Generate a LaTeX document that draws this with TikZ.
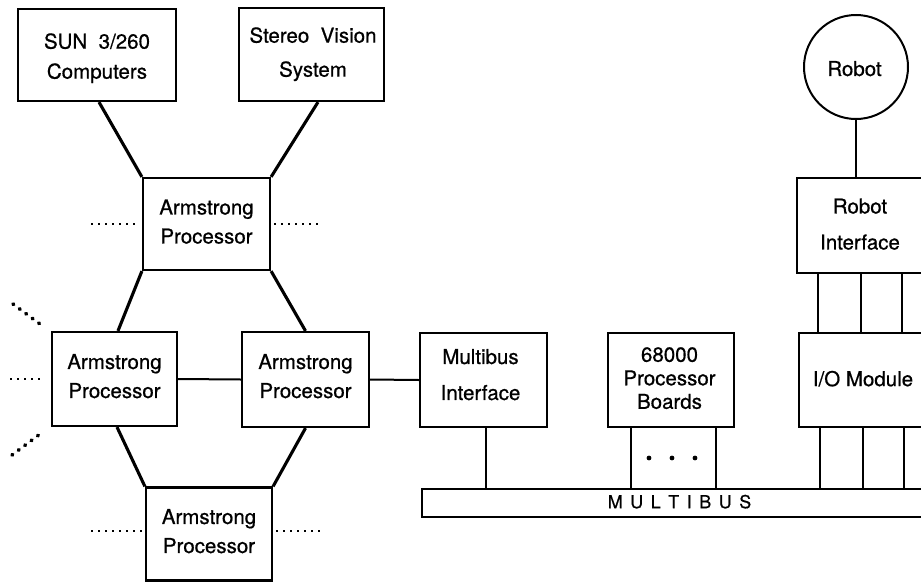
\documentclass[tikz,border=0pt]{standalone}
\usepackage{fontspec}
\setmainfont{TeX Gyre Heros}[FakeBold=0.7]
\begin{document}
\begin{tikzpicture}[x=1pt,y=-1pt,
  box/.style={draw,line width=2.2pt,inner sep=0pt},
  txt/.style={inner sep=0pt,align=center,text depth=0pt,
    font=\fontsize{20.5}{29}\selectfont},
  thickwire/.style={line width=3.1pt},
  wire/.style={line width=2pt},
  fine/.style={line width=1.5pt},
  dots/.style={line width=1.6pt,dash pattern=on 1.5pt off 5.5pt},
  bigdots/.style={line width=3.8pt,line cap=round,dash pattern=on 0.8pt off 7.2pt}]
\useasboundingbox (0,0) rectangle (921,581);
\clip (0,0) rectangle (921,581);

% host machines
\node[box,minimum width=158pt,minimum height=92pt] (sun) at (97,55) {};
\node[txt] (sun-t) at (97,56) {SUN\ \ 3/260\\[1pt]Computers};
\node[box,minimum width=145pt,minimum height=93pt] (stereo) at (311.5,54.5) {};
\node[txt] (stereo-t) at (313,52) {Stereo\ \ Vision\\[5pt]System};

% Armstrong processor network
\node[box,minimum width=127pt,minimum height=92pt] (apt) at (206.5,224) {};
\node[txt] (apt-t) at (206.5,221.5) {Armstrong\\Processor};
\node[box,minimum width=125pt,minimum height=94pt] (apl) at (114.5,379) {};
\node[txt] (apl-t) at (114.5,376) {Armstrong\\Processor};
\node[box,minimum width=127pt,minimum height=95pt] (apm) at (305.5,379.5) {};
\node[txt] (apm-t) at (305.5,376) {Armstrong\\Processor};
\node[box,minimum width=126pt,minimum height=93pt] (apb) at (209,534) {};
\node[txt] (apb-t) at (209,531) {Armstrong\\Processor};

% Multibus side
\node[box,minimum width=127pt,minimum height=94pt] (mbi) at (483.5,380) {};
\node[txt] (mbi-t) at (480.5,374.5) {Multibus\\[7pt]Interface};
\node[box,minimum width=126pt,minimum height=94pt] (cpu) at (671,380) {};
\node[txt,font=\fontsize{20.5}{23.5}\selectfont] (cpu-t) at (669.5,378) {68000\\Processor\\Boards};
\node[box,minimum width=128pt,minimum height=94pt] (io) at (863,380) {};
\node[txt] (io-t) at (863,378.5) {I/O Module};
\node[box,minimum width=130pt,minimum height=95pt] (ri) at (862,225.5) {};
\node[txt] (ri-t) at (860,224) {Robot\\[7pt]Interface};
\node[draw,circle,line width=2pt,minimum size=104pt,inner sep=0pt] (robot) at (856,67) {};
\node[txt] (robot-t) at (854.5,68.5) {Robot};
\node[draw,line width=2pt,minimum width=516pt,minimum height=28pt,inner sep=0pt] (bus) at (680,503) {};
\node[txt,font=\fontsize{18}{20}\selectfont] (bus-t) at (679.5,501.5)
  {M\kern7.5pt U\kern7.5pt L\kern7.5pt T\kern7.5pt I\kern7.5pt B\kern7.5pt U\kern7.5pt S};

% links to the hosts
\draw[thickwire] ([xshift=2pt]sun.south) -- (apt.north west);
\draw[thickwire] ([xshift=6.5pt]stereo.south) -- (apt.north east);

% processor ring
\draw[thickwire] (apt.south west) -- ([xshift=3.5pt]apl.north);
\draw[thickwire] (apt.south east) -- (apm.north);
\draw[thickwire] ([xshift=2.5pt]apl.south) -- (apb.north west);
\draw[thickwire] (apm.south) -- (apb.north east);
\draw[wire] (apl.east) -- (apm.west);
\draw[wire] (apm.east) -- (mbi.west);

% open-ended links
\coordinate (tl) at (91,224);
\coordinate (tr) at (322,224);
\coordinate (bl) at (91,531);
\coordinate (br) at (322,531);
\coordinate (ll) at (10,379);
\coordinate (lu) at (13,304);
\coordinate (ld) at (12,455);
\draw[dots] (tl) -- ([xshift=-3pt]apt.west);
\draw[dots] ([xshift=3pt]apt.east) -- (tr);
\draw[dots] (bl) -- ([xshift=-3pt,yshift=3pt]apb.west);
\draw[dots] ([xshift=3pt,yshift=3pt]apb.east) -- (br);
\draw[dots] (ll) -- ([xshift=-6pt]apl.west);
\draw[bigdots] (lu) -- ([xshift=-7pt,yshift=4pt]apl.north west);
\draw[bigdots] (ld) -- ([xshift=-7pt,yshift=-4pt]apl.south west);

% bus drops
\draw[fine] ([xshift=2.5pt]mbi.south) -- ([xshift=2.5pt]mbi.south |- bus.north);
\draw[fine] ([xshift=-40pt]cpu.south) -- ([xshift=-40pt]cpu.south |- bus.north);
\draw[fine] ([xshift=45pt]cpu.south) -- ([xshift=45pt]cpu.south |- bus.north);
\fill (649,458) circle (2.4pt) (672,458) circle (2.4pt) (695,458) circle (2.4pt);
\foreach \dx in {-43,0,41}{
  \draw[fine] ([xshift=\dx pt]io.south) -- ([xshift=\dx pt]io.south |- bus.north);
  \draw[fine] ([xshift=\dx pt-1pt]ri.south) -- ([xshift=\dx pt-1pt]ri.south |- io.north);
}
\draw[fine] (robot.south) -- (robot.south |- ri.north);
\end{tikzpicture}
\end{document}
